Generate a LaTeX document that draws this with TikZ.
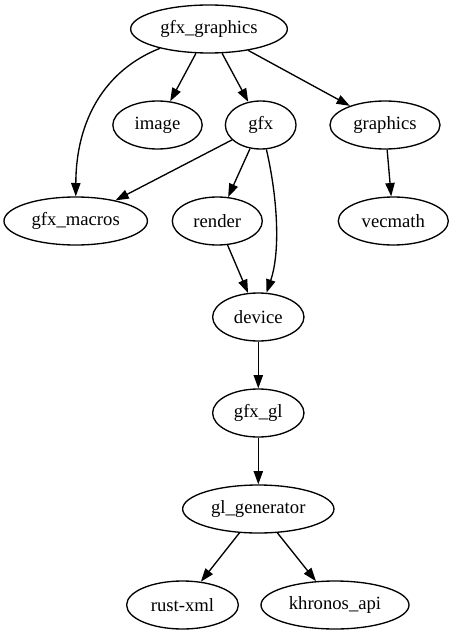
\documentclass[tikz,border=0pt]{standalone}
\usepackage{fontspec}
\setmainfont{Liberation Serif}
\usetikzlibrary{shapes, arrows.meta}
\tikzstyle{crate} = [draw, ellipse, line width=1pt, inner sep=0pt, minimum height=36pt, font=\fontsize{14}{16}\selectfont]
\tikzstyle{dep} = [draw, line width=1pt, -{Triangle[length=10pt,width=7pt]}]

\begin{document}
\begin{tikzpicture}[x=0.75pt, y=-0.75pt]
	\useasboundingbox (0,0) rectangle (453,635);
	\node[crate, minimum width=117.5pt] (gfxgraphics) at (209,29) {gfx\_graphics};
	\node[crate, minimum width=67pt] (image) at (157.5,125) {image};
	\node[crate, minimum width=53pt] (gfx) at (260.7,125) {gfx};
	\node[crate, minimum width=82.5pt] (graphics) at (385,125) {graphics};
	\node[crate, minimum width=107.6pt] (gfxmacros) at (75.7,221) {gfx\_macros};
	\node[crate, minimum width=67.5pt] (render) at (217.3,221) {render};
	\node[crate, minimum width=82.5pt] (vecmath) at (393.3,221) {vecmath};
	\node[crate, minimum width=68.5pt] (device) at (258.3,317) {device};
	\node[crate, minimum width=68.5pt] (gfxgl) at (258.3,413) {gfx\_gl};
	\node[crate, minimum width=113.5pt] (glgenerator) at (258.3,509) {gl\_generator};
	\node[crate, minimum width=83.8pt] (rustxml) at (182.5,605) {rust-xml};
	\node[crate, minimum width=111pt] (khronosapi) at (335,605) {khronos\_api};
	\draw[dep] (gfxgraphics) .. controls (105,70) and (76,120) .. (gfxmacros);
	\draw[dep] (gfxgraphics) -- (image);
	\draw[dep] (gfxgraphics) -- (gfx);
	\draw[dep] (gfxgraphics) -- (graphics);
	\draw[dep] (gfx) -- (gfxmacros);
	\draw[dep] (gfx) -- (render);
	\draw[dep] (gfx) .. controls (277,195) and (281,250) .. (device);
	\draw[dep] (graphics) -- (vecmath);
	\draw[dep] (render) -- (device);
	\draw[dep] (device) -- (gfxgl);
	\draw[dep] (gfxgl) -- (glgenerator);
	\draw[dep] (glgenerator) -- (rustxml);
	\draw[dep] (glgenerator) -- (khronosapi);
\end{tikzpicture}
\end{document}
